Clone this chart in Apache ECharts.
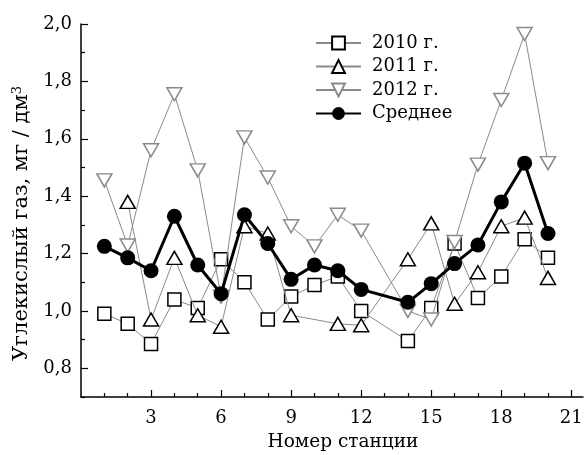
<!DOCTYPE html>
<html>
<head>
<meta charset="utf-8">
<script src="https://cdn.jsdelivr.net/npm/echarts@6/dist/echarts.min.js"></script>
<style>
html,body{margin:0;padding:0;background:#fff;}
#chart{width:588px;height:455px;}
</style>
</head>
<body>
<div id="chart"></div>
<script>
// Station numbers (station 13 has no data)
var stations = [1, 2, 3, 4, 5, 6, 7, 8, 9, 10, 11, 12, 13, 14, 15, 16, 17, 18, 19, 20];
var y2010 = [0.99, 0.955, 0.885, 1.04, 1.01, 1.18, 1.10, 0.97, 1.05, 1.09, 1.12, 1.00, null, 0.895, 1.01, 1.235, 1.045, 1.12, 1.25, 1.185];
var y2011 = [null, 1.38, 0.97, 1.185, 0.985, 0.945, 1.295, 1.27, 0.985, null, 0.955, 0.95, null, 1.18, 1.305, 1.025, 1.135, 1.295, 1.325, 1.115];
var y2012 = [1.455, 1.228, 1.56, 1.755, 1.49, 1.05, 1.605, 1.465, 1.295, 1.225, 1.335, 1.28, null, 1.0, 0.97, 1.24, 1.51, 1.735, 1.965, 1.515];
var yAvg = [1.225, 1.185, 1.14, 1.33, 1.16, 1.06, 1.335, 1.235, 1.11, 1.16, 1.14, 1.075, null, 1.03, 1.095, 1.165, 1.23, 1.38, 1.515, 1.27];
var seriesNames = ['2010 г.', '2011 г.', '2012 г.', 'Среднее'];
var xMajorTicks = [3, 6, 9, 12, 15, 18, 21];
var xMinorTicks = [1, 2, 4, 5, 7, 8, 10, 11, 13, 14, 16, 17, 19, 20];
var yMajorTicks = [0.8, 1.0, 1.2, 1.4, 1.6, 1.8, 2.0];
var yMinorTicks = [0.7, 0.9, 1.1, 1.3, 1.5, 1.7, 1.9];
var xTitle = 'Номер станции';
var yTitle = 'Углекислый газ, мг / дм{sup|3}';

function pairs(vals) {
  var out = [];
  for (var i = 0; i < stations.length; i++) {
    if (vals[i] !== null) out.push([stations[i], vals[i]]);
  }
  return out;
}

var FONT = 'DejaVu Serif';
var GREY = '#8a8a8a';
var chart = echarts.init(document.getElementById('chart'), null, {renderer: 'canvas'});

var axisLineStyle = {color: '#000', width: 1.5};

chart.setOption({
  animation: false,
  backgroundColor: '#fff',
  grid: {left: 81, right: 5, top: 24, bottom: 58, containLabel: false, outerBoundsMode: 'none'},
  legend: {
    orient: 'vertical',
    left: 315,
    top: 33,
    padding: 0,
    itemWidth: 45,
    itemHeight: 16,
    itemGap: 3.5,
    data: seriesNames,
    textStyle: {fontFamily: FONT, fontSize: 18, color: '#000', lineHeight: 20, padding: [0, 0, 0, 6]}
  },
  xAxis: [{
    type: 'value',
    min: 0, max: 21.5,
    name: xTitle,
    nameLocation: 'middle',
    nameGap: 36,
    nameTextStyle: {fontFamily: FONT, fontSize: 18.5, color: '#000', padding: [0, 0, 0, 22]},
    axisLine: {show: true, onZero: false, lineStyle: axisLineStyle},
    axisTick: {show: true, inside: true, length: 7, customValues: xMajorTicks, lineStyle: {color: '#000', width: 1.2}},
    axisLabel: {show: true, customValues: xMajorTicks, margin: 12, fontFamily: FONT, fontSize: 18, color: '#000'},
    splitLine: {show: false}
  }, {
    type: 'value',
    min: 0, max: 21.5,
    position: 'bottom',
    axisLine: {show: false},
    axisTick: {show: true, inside: true, length: 4, customValues: xMinorTicks, lineStyle: {color: '#000', width: 1.2}},
    axisLabel: {show: false},
    splitLine: {show: false}
  }],
  yAxis: [{
    type: 'value',
    min: 0.7, max: 2.0,
    name: yTitle,
    nameLocation: 'middle',
    nameRotate: 90,
    nameGap: 43,
    nameTextStyle: {
      fontFamily: FONT, fontSize: 21, color: '#000', padding: [0, 26, 0, 0],
      rich: {sup: {fontFamily: FONT, fontSize: 13, color: '#000', verticalAlign: 'top', lineHeight: 13}}
    },
    axisLine: {show: true, onZero: false, lineStyle: axisLineStyle},
    axisTick: {show: true, inside: true, length: 7, customValues: yMajorTicks, lineStyle: {color: '#000', width: 1.2}},
    axisLabel: {
      show: true, customValues: yMajorTicks, margin: 9, fontFamily: FONT, fontSize: 18, color: '#000',
      formatter: function (v) { return v.toFixed(1).replace('.', ','); }
    },
    splitLine: {show: false}
  }, {
    type: 'value',
    min: 0.7, max: 2.0,
    position: 'left',
    axisLine: {show: false},
    axisTick: {show: true, inside: true, length: 4, customValues: yMinorTicks, lineStyle: {color: '#000', width: 1.2}},
    axisLabel: {show: false},
    splitLine: {show: false}
  }],
  series: [{
    name: seriesNames[0], type: 'line', data: pairs(y2010),
    symbol: 'rect', symbolSize: 13,
    lineStyle: {color: GREY, width: 1},
    itemStyle: {color: '#fff', borderColor: '#000', borderWidth: 1.5},
    z: 2
  }, {
    name: seriesNames[1], type: 'line', data: pairs(y2011),
    symbol: 'triangle', symbolSize: [15, 13],
    lineStyle: {color: GREY, width: 1},
    itemStyle: {color: '#fff', borderColor: '#000', borderWidth: 1.5},
    z: 3
  }, {
    name: seriesNames[2], type: 'line', data: pairs(y2012),
    symbol: 'triangle', symbolRotate: 180, symbolSize: [15, 13],
    lineStyle: {color: GREY, width: 1},
    itemStyle: {color: '#fff', borderColor: GREY, borderWidth: 1.5},
    z: 4
  }, {
    name: seriesNames[3], type: 'line', data: pairs(yAvg),
    symbol: 'circle', symbolSize: 15,
    lineStyle: {color: '#000', width: 3},
    itemStyle: {color: '#000', borderColor: '#000', borderWidth: 0},
    z: 5
  }]
});
</script>
</body>
</html>
